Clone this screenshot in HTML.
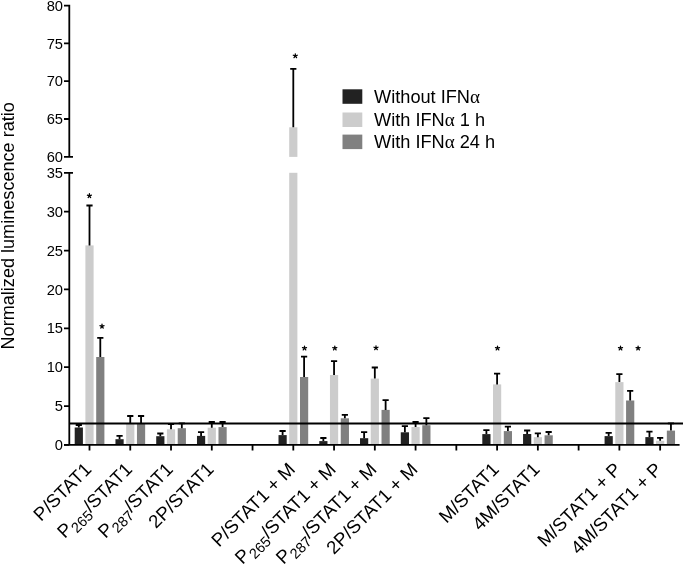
<!DOCTYPE html>
<html><head><meta charset="utf-8"><style>
html,body{margin:0;padding:0;background:#fff;width:685px;height:565px;overflow:hidden}
svg{display:block;will-change:transform}
</style></head><body>
<svg width="685" height="565" viewBox="0 0 685 565"><style>text{font-family:"Liberation Sans",sans-serif;fill:#000}.t{font-size:14.7px}.l{font-size:18.2px}.xl{font-size:18.6px}.yl{font-size:18.1px}.sub{font-size:14.5px}.al{font-family:"Liberation Serif",serif;font-size:19px}.s{font-size:15px;stroke:#000;stroke-width:0.4px}</style><rect x="74.70" y="427.5" width="8.2" height="17.40" fill="#222222"/><rect x="85.40" y="245.4" width="8.2" height="199.50" fill="#cccccc"/><rect x="96.20" y="357.0" width="8.2" height="87.90" fill="#808080"/><rect x="115.46" y="439.2" width="8.2" height="5.70" fill="#222222"/><rect x="126.16" y="424.0" width="8.2" height="20.90" fill="#cccccc"/><rect x="136.96" y="424.0" width="8.2" height="20.90" fill="#808080"/><rect x="156.22" y="436.2" width="8.2" height="8.70" fill="#222222"/><rect x="166.92" y="429.3" width="8.2" height="15.60" fill="#cccccc"/><rect x="177.72" y="428.2" width="8.2" height="16.70" fill="#808080"/><rect x="196.98" y="435.9" width="8.2" height="9.00" fill="#222222"/><rect x="207.68" y="427.7" width="8.2" height="17.20" fill="#cccccc"/><rect x="218.48" y="427.1" width="8.2" height="17.80" fill="#808080"/><rect x="278.50" y="435.1" width="8.2" height="9.80" fill="#222222"/><rect x="289.20" y="127.3" width="8.2" height="29.60" fill="#cccccc"/><rect x="289.20" y="172.8" width="8.2" height="272.10" fill="#cccccc"/><rect x="300.00" y="377.0" width="8.2" height="67.90" fill="#808080"/><rect x="319.26" y="441.1" width="8.2" height="3.80" fill="#222222"/><rect x="329.96" y="375.0" width="8.2" height="69.90" fill="#cccccc"/><rect x="340.76" y="418.3" width="8.2" height="26.60" fill="#808080"/><rect x="360.02" y="438.2" width="8.2" height="6.70" fill="#222222"/><rect x="370.72" y="378.6" width="8.2" height="66.30" fill="#cccccc"/><rect x="381.52" y="409.9" width="8.2" height="35.00" fill="#808080"/><rect x="400.78" y="432.3" width="8.2" height="12.60" fill="#222222"/><rect x="411.48" y="427.0" width="8.2" height="17.90" fill="#cccccc"/><rect x="422.28" y="425.2" width="8.2" height="19.70" fill="#808080"/><rect x="482.30" y="434.1" width="8.2" height="10.80" fill="#222222"/><rect x="493.00" y="384.4" width="8.2" height="60.50" fill="#cccccc"/><rect x="503.80" y="431.1" width="8.2" height="13.80" fill="#808080"/><rect x="523.06" y="434.0" width="8.2" height="10.90" fill="#222222"/><rect x="533.76" y="437.2" width="8.2" height="7.70" fill="#cccccc"/><rect x="544.56" y="435.3" width="8.2" height="9.60" fill="#808080"/><rect x="604.58" y="436.1" width="8.2" height="8.80" fill="#222222"/><rect x="615.28" y="382.1" width="8.2" height="62.80" fill="#cccccc"/><rect x="626.08" y="400.5" width="8.2" height="44.40" fill="#808080"/><rect x="645.34" y="437.1" width="8.2" height="7.80" fill="#222222"/><rect x="656.04" y="440.8" width="8.2" height="4.10" fill="#cccccc"/><rect x="666.84" y="430.6" width="8.2" height="14.30" fill="#808080"/><path d="M78.80 427.5V425.0M75.70 425.0H81.90" stroke="#000" stroke-width="1.8" fill="none"/><path d="M89.50 245.4V205.5M86.40 205.5H92.60" stroke="#000" stroke-width="1.8" fill="none"/><path d="M100.30 357.0V337.8M97.20 337.8H103.40" stroke="#000" stroke-width="1.8" fill="none"/><path d="M119.56 439.2V435.9M116.46 435.9H122.66" stroke="#000" stroke-width="1.8" fill="none"/><path d="M130.26 424.0V416.0M127.16 416.0H133.36" stroke="#000" stroke-width="1.8" fill="none"/><path d="M141.06 424.0V416.0M137.96 416.0H144.16" stroke="#000" stroke-width="1.8" fill="none"/><path d="M160.32 436.2V433.5M157.22 433.5H163.42" stroke="#000" stroke-width="1.8" fill="none"/><path d="M171.02 429.3V424.0M167.92 424.0H174.12" stroke="#000" stroke-width="1.8" fill="none"/><path d="M181.82 428.2V423.4M178.72 423.4H184.92" stroke="#000" stroke-width="1.8" fill="none"/><path d="M201.08 435.9V432.1M197.98 432.1H204.18" stroke="#000" stroke-width="1.8" fill="none"/><path d="M211.78 427.7V422.0M208.68 422.0H214.88" stroke="#000" stroke-width="1.8" fill="none"/><path d="M222.58 427.1V422.0M219.48 422.0H225.68" stroke="#000" stroke-width="1.8" fill="none"/><path d="M282.60 435.1V431.0M279.50 431.0H285.70" stroke="#000" stroke-width="1.8" fill="none"/><path d="M293.30 127.3V68.8M290.20 68.8H296.40" stroke="#000" stroke-width="1.8" fill="none"/><path d="M304.10 377.0V356.6M301.00 356.6H307.20" stroke="#000" stroke-width="1.8" fill="none"/><path d="M323.36 441.1V438.0M320.26 438.0H326.46" stroke="#000" stroke-width="1.8" fill="none"/><path d="M334.06 375.0V361.1M330.96 361.1H337.16" stroke="#000" stroke-width="1.8" fill="none"/><path d="M344.86 418.3V414.9M341.76 414.9H347.96" stroke="#000" stroke-width="1.8" fill="none"/><path d="M364.12 438.2V432.2M361.02 432.2H367.22" stroke="#000" stroke-width="1.8" fill="none"/><path d="M374.82 378.6V367.5M371.72 367.5H377.92" stroke="#000" stroke-width="1.8" fill="none"/><path d="M385.62 409.9V400.1M382.52 400.1H388.72" stroke="#000" stroke-width="1.8" fill="none"/><path d="M404.88 432.3V426.2M401.78 426.2H407.98" stroke="#000" stroke-width="1.8" fill="none"/><path d="M415.58 427.0V422.0M412.48 422.0H418.68" stroke="#000" stroke-width="1.8" fill="none"/><path d="M426.38 425.2V418.1M423.28 418.1H429.48" stroke="#000" stroke-width="1.8" fill="none"/><path d="M486.40 434.1V430.1M483.30 430.1H489.50" stroke="#000" stroke-width="1.8" fill="none"/><path d="M497.10 384.4V373.7M494.00 373.7H500.20" stroke="#000" stroke-width="1.8" fill="none"/><path d="M507.90 431.1V426.7M504.80 426.7H511.00" stroke="#000" stroke-width="1.8" fill="none"/><path d="M527.16 434.0V430.5M524.06 430.5H530.26" stroke="#000" stroke-width="1.8" fill="none"/><path d="M537.86 437.2V433.3M534.76 433.3H540.96" stroke="#000" stroke-width="1.8" fill="none"/><path d="M548.66 435.3V432.0M545.56 432.0H551.76" stroke="#000" stroke-width="1.8" fill="none"/><path d="M608.68 436.1V432.9M605.58 432.9H611.78" stroke="#000" stroke-width="1.8" fill="none"/><path d="M619.38 382.1V374.1M616.28 374.1H622.48" stroke="#000" stroke-width="1.8" fill="none"/><path d="M630.18 400.5V390.9M627.08 390.9H633.28" stroke="#000" stroke-width="1.8" fill="none"/><path d="M649.44 437.1V431.7M646.34 431.7H652.54" stroke="#000" stroke-width="1.8" fill="none"/><path d="M660.14 440.8V437.8M657.04 437.8H663.24" stroke="#000" stroke-width="1.8" fill="none"/><path d="M670.94 430.6V423.4M667.84 423.4H674.04" stroke="#000" stroke-width="1.8" fill="none"/><path d="M69.3 423.4H683" stroke="#000" stroke-width="2"/><path d="M64 5.6H69.3V156.9M69.3 172.8V444.9M64 444.9H679.6" stroke="#000" stroke-width="1.8" fill="none"/><path d="M64 43.40H69.3M64 81.10H69.3M64 119.00H69.3M64 156.90H73M64 172.80H73M64 211.67H69.3M64 250.54H69.3M64 289.41H69.3M64 328.29H69.3M64 367.16H69.3M64 406.03H69.3M64 444.90H69.3M89.50 444.9V450.6M130.26 444.9V450.6M171.02 444.9V450.6M211.78 444.9V450.6M252.54 444.9V450.6M293.30 444.9V450.6M334.06 444.9V450.6M374.82 444.9V450.6M415.58 444.9V450.6M456.34 444.9V450.6M497.10 444.9V450.6M537.86 444.9V450.6M578.62 444.9V450.6M619.38 444.9V450.6M660.14 444.9V450.6" stroke="#000" stroke-width="1.8" fill="none"/><text class="t" transform="translate(63 10.75) scale(1 1.05)" text-anchor="end">80</text><text class="t" transform="translate(63 48.55) scale(1 1.05)" text-anchor="end">75</text><text class="t" transform="translate(63 86.25) scale(1 1.05)" text-anchor="end">70</text><text class="t" transform="translate(63 124.15) scale(1 1.05)" text-anchor="end">65</text><text class="t" transform="translate(63 162.05) scale(1 1.05)" text-anchor="end">60</text><text class="t" transform="translate(63 177.95) scale(1 1.05)" text-anchor="end">35</text><text class="t" transform="translate(63 216.82) scale(1 1.05)" text-anchor="end">30</text><text class="t" transform="translate(63 255.69) scale(1 1.05)" text-anchor="end">25</text><text class="t" transform="translate(63 294.56) scale(1 1.05)" text-anchor="end">20</text><text class="t" transform="translate(63 333.44) scale(1 1.05)" text-anchor="end">15</text><text class="t" transform="translate(63 372.31) scale(1 1.05)" text-anchor="end">10</text><text class="t" transform="translate(63 411.18) scale(1 1.05)" text-anchor="end">5</text><text class="t" transform="translate(63 450.05) scale(1 1.05)" text-anchor="end">0</text><path d="M89.40 195.80L89.40 193.65M89.40 195.80L91.44 195.14M89.40 195.80L90.66 197.54M89.40 195.80L88.14 197.54M89.40 195.80L87.36 195.14M102.00 326.30L102.00 324.15M102.00 326.30L104.04 325.64M102.00 326.30L103.26 328.04M102.00 326.30L100.74 328.04M102.00 326.30L99.96 325.64M295.30 55.90L295.30 53.75M295.30 55.90L297.34 55.24M295.30 55.90L296.56 57.64M295.30 55.90L294.04 57.64M295.30 55.90L293.26 55.24M304.50 348.20L304.50 346.05M304.50 348.20L306.54 347.54M304.50 348.20L305.76 349.94M304.50 348.20L303.24 349.94M304.50 348.20L302.46 347.54M334.80 348.20L334.80 346.05M334.80 348.20L336.84 347.54M334.80 348.20L336.06 349.94M334.80 348.20L333.54 349.94M334.80 348.20L332.76 347.54M376.00 347.90L376.00 345.75M376.00 347.90L378.04 347.24M376.00 347.90L377.26 349.64M376.00 347.90L374.74 349.64M376.00 347.90L373.96 347.24M497.50 348.20L497.50 346.05M497.50 348.20L499.54 347.54M497.50 348.20L498.76 349.94M497.50 348.20L496.24 349.94M497.50 348.20L495.46 347.54M620.50 348.20L620.50 346.05M620.50 348.20L622.54 347.54M620.50 348.20L621.76 349.94M620.50 348.20L619.24 349.94M620.50 348.20L618.46 347.54M638.10 348.20L638.10 346.05M638.10 348.20L640.14 347.54M638.10 348.20L639.36 349.94M638.10 348.20L636.84 349.94M638.10 348.20L636.06 347.54" stroke="#000" stroke-width="1.25" stroke-linecap="round" fill="none"/><rect x="342.5" y="89.3" width="19.8" height="14.5" fill="#222222"/><text class="l" x="374" y="103">Without IFN<tspan class="al">α</tspan></text><rect x="342.5" y="112.5" width="19.8" height="14.5" fill="#cccccc"/><text class="l" x="374" y="125.8">With IFN<tspan class="al">α</tspan> 1 h</text><rect x="342.5" y="134.6" width="19.8" height="14.5" fill="#808080"/><text class="l" x="374" y="147.6">With IFN<tspan class="al">α</tspan> 24 h</text><text class="yl" transform="translate(14.4 225.8) rotate(-90)" text-anchor="middle">Normalized luminescence ratio</text><text class="xl" transform="translate(92.50 470.5) rotate(-45)" text-anchor="end">P/STAT1</text><text class="xl" transform="translate(133.26 470.5) rotate(-45)" text-anchor="end">P<tspan class="sub" dy="5">265</tspan><tspan dy="-5">/STAT1</tspan></text><text class="xl" transform="translate(174.02 470.5) rotate(-45)" text-anchor="end">P<tspan class="sub" dy="5">287</tspan><tspan dy="-5">/STAT1</tspan></text><text class="xl" transform="translate(214.78 470.5) rotate(-45)" text-anchor="end">2P/STAT1</text><text class="xl" transform="translate(296.30 470.5) rotate(-45)" text-anchor="end">P/STAT1 + M</text><text class="xl" transform="translate(337.06 470.5) rotate(-45)" text-anchor="end">P<tspan class="sub" dy="5">265</tspan><tspan dy="-5">/STAT1 + M</tspan></text><text class="xl" transform="translate(377.82 470.5) rotate(-45)" text-anchor="end">P<tspan class="sub" dy="5">287</tspan><tspan dy="-5">/STAT1 + M</tspan></text><text class="xl" transform="translate(418.58 470.5) rotate(-45)" text-anchor="end">2P/STAT1 + M</text><text class="xl" transform="translate(500.10 470.5) rotate(-45)" text-anchor="end">M/STAT1</text><text class="xl" transform="translate(540.86 470.5) rotate(-45)" text-anchor="end">4M/STAT1</text><text class="xl" transform="translate(622.38 470.5) rotate(-45)" text-anchor="end">M/STAT1 + P</text><text class="xl" transform="translate(663.14 470.5) rotate(-45)" text-anchor="end">4M/STAT1 + P</text></svg>
</body></html>
